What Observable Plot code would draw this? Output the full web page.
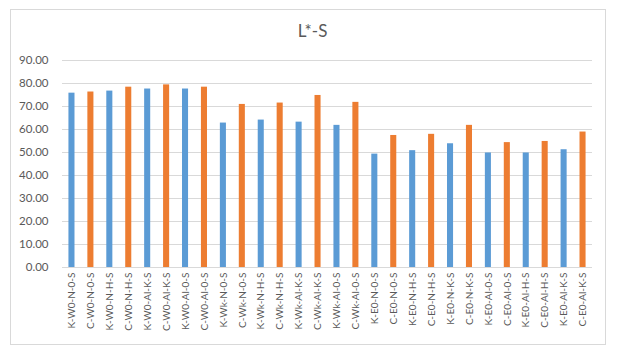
<!DOCTYPE html>
<html>
<head>
<meta charset="utf-8">
<script src="https://cdn.jsdelivr.net/npm/d3@7"></script>
<script src="https://cdn.jsdelivr.net/npm/@observablehq/plot@0.6"></script>
<style>
  html, body { margin: 0; padding: 0; background: #fff; }
  body { width: 625px; height: 354px; position: relative; overflow: hidden; font-family: Lato, "Open Sans", sans-serif; }
  #frame { position: absolute; left: 10px; top: 9px; width: 596px; height: 336px; border: 1px solid #d9d9d9; box-sizing: border-box; }
  #title { position: absolute; left: 0; top: 20px; width: 625px; text-align: center; font-size: 17px; color: #595959; }
  #chart { position: absolute; left: 0; top: 45px; }
</style>
</head>
<body>
<div id="frame"></div>
<div id="title">L*-S</div>
<div id="chart"></div>
<script>
const labels = [
  "K-W0-N-0-S","C-W0-N-0-S","K-W0-N-H-S","C-W0-N-H-S","K-W0-Al-K-S","C-W0-Al-K-S","K-W0-Al-0-S","C-W0-Al-0-S",
  "K-Wk-N-0-S","C-Wk-N-0-S","K-Wk-N-H-S","C-Wk-N-H-S","K-Wk-Al-K-S","C-Wk-Al-K-S","K-Wk-Al-0-S","C-Wk-Al-0-S",
  "K-E0-N-0-S","C-E0-N-0-S","K-E0-N-H-S","C-E0-N-H-S","K-E0-N-K-S","C-E0-N-K-S","K-E0-Al-0-S","C-E0-Al-0-S",
  "K-E0-Al-H-S","C-E0-Al-H-S","K-E0-Al-K-S","C-E0-Al-K-S"
];
const values = [
  75.8, 76.3, 76.7, 78.4, 77.6, 79.4, 77.6, 78.4,
  62.8, 70.9, 64.1, 71.5, 63.2, 74.8, 61.8, 71.8,
  49.3, 57.4, 50.8, 57.9, 53.8, 61.8, 49.8, 54.3,
  49.8, 54.8, 51.2, 58.9
];
const groups = ["K", "C"];
const groupColors = ["#5B9BD5", "#ED7D31"];
const yTicks = [0, 10, 20, 30, 40, 50, 60, 70, 80, 90];

const data = labels.map((l, i) => ({label: l, value: values[i], group: l.charAt(0)}));

const chart = Plot.plot({
  width: 625,
  height: 300,
  marginLeft: 62,
  marginRight: 33,
  marginTop: 15,
  marginBottom: 78,
  style: {fontFamily: "Lato, 'Open Sans', sans-serif", fontSize: "11px", color: "#595959", background: "transparent"},
  x: {domain: labels, paddingInner: 0.68, paddingOuter: 0.34, round: false, label: null},
  y: {domain: [0, 90], label: null},
  color: {domain: groups, range: groupColors},
  marks: [
    Plot.gridY(yTicks, {stroke: "#d9d9d9", strokeOpacity: 1}),
    Plot.axisY(yTicks, {tickSize: 0, tickPadding: 14, tickFormat: d3.format(".2f"), label: null, fontSize: 11.5, fill: "#595959"}),
    Plot.axisX({tickSize: 0, tickPadding: 5, tickRotate: -90, label: null, fontSize: 10, fill: "#595959"}),
    Plot.barY(data, {x: "label", y: "value", fill: "group"}),
    Plot.ruleY([0], {stroke: "#d9d9d9"})
  ]
});
document.getElementById("chart").appendChild(chart);
</script>
</body>
</html>
